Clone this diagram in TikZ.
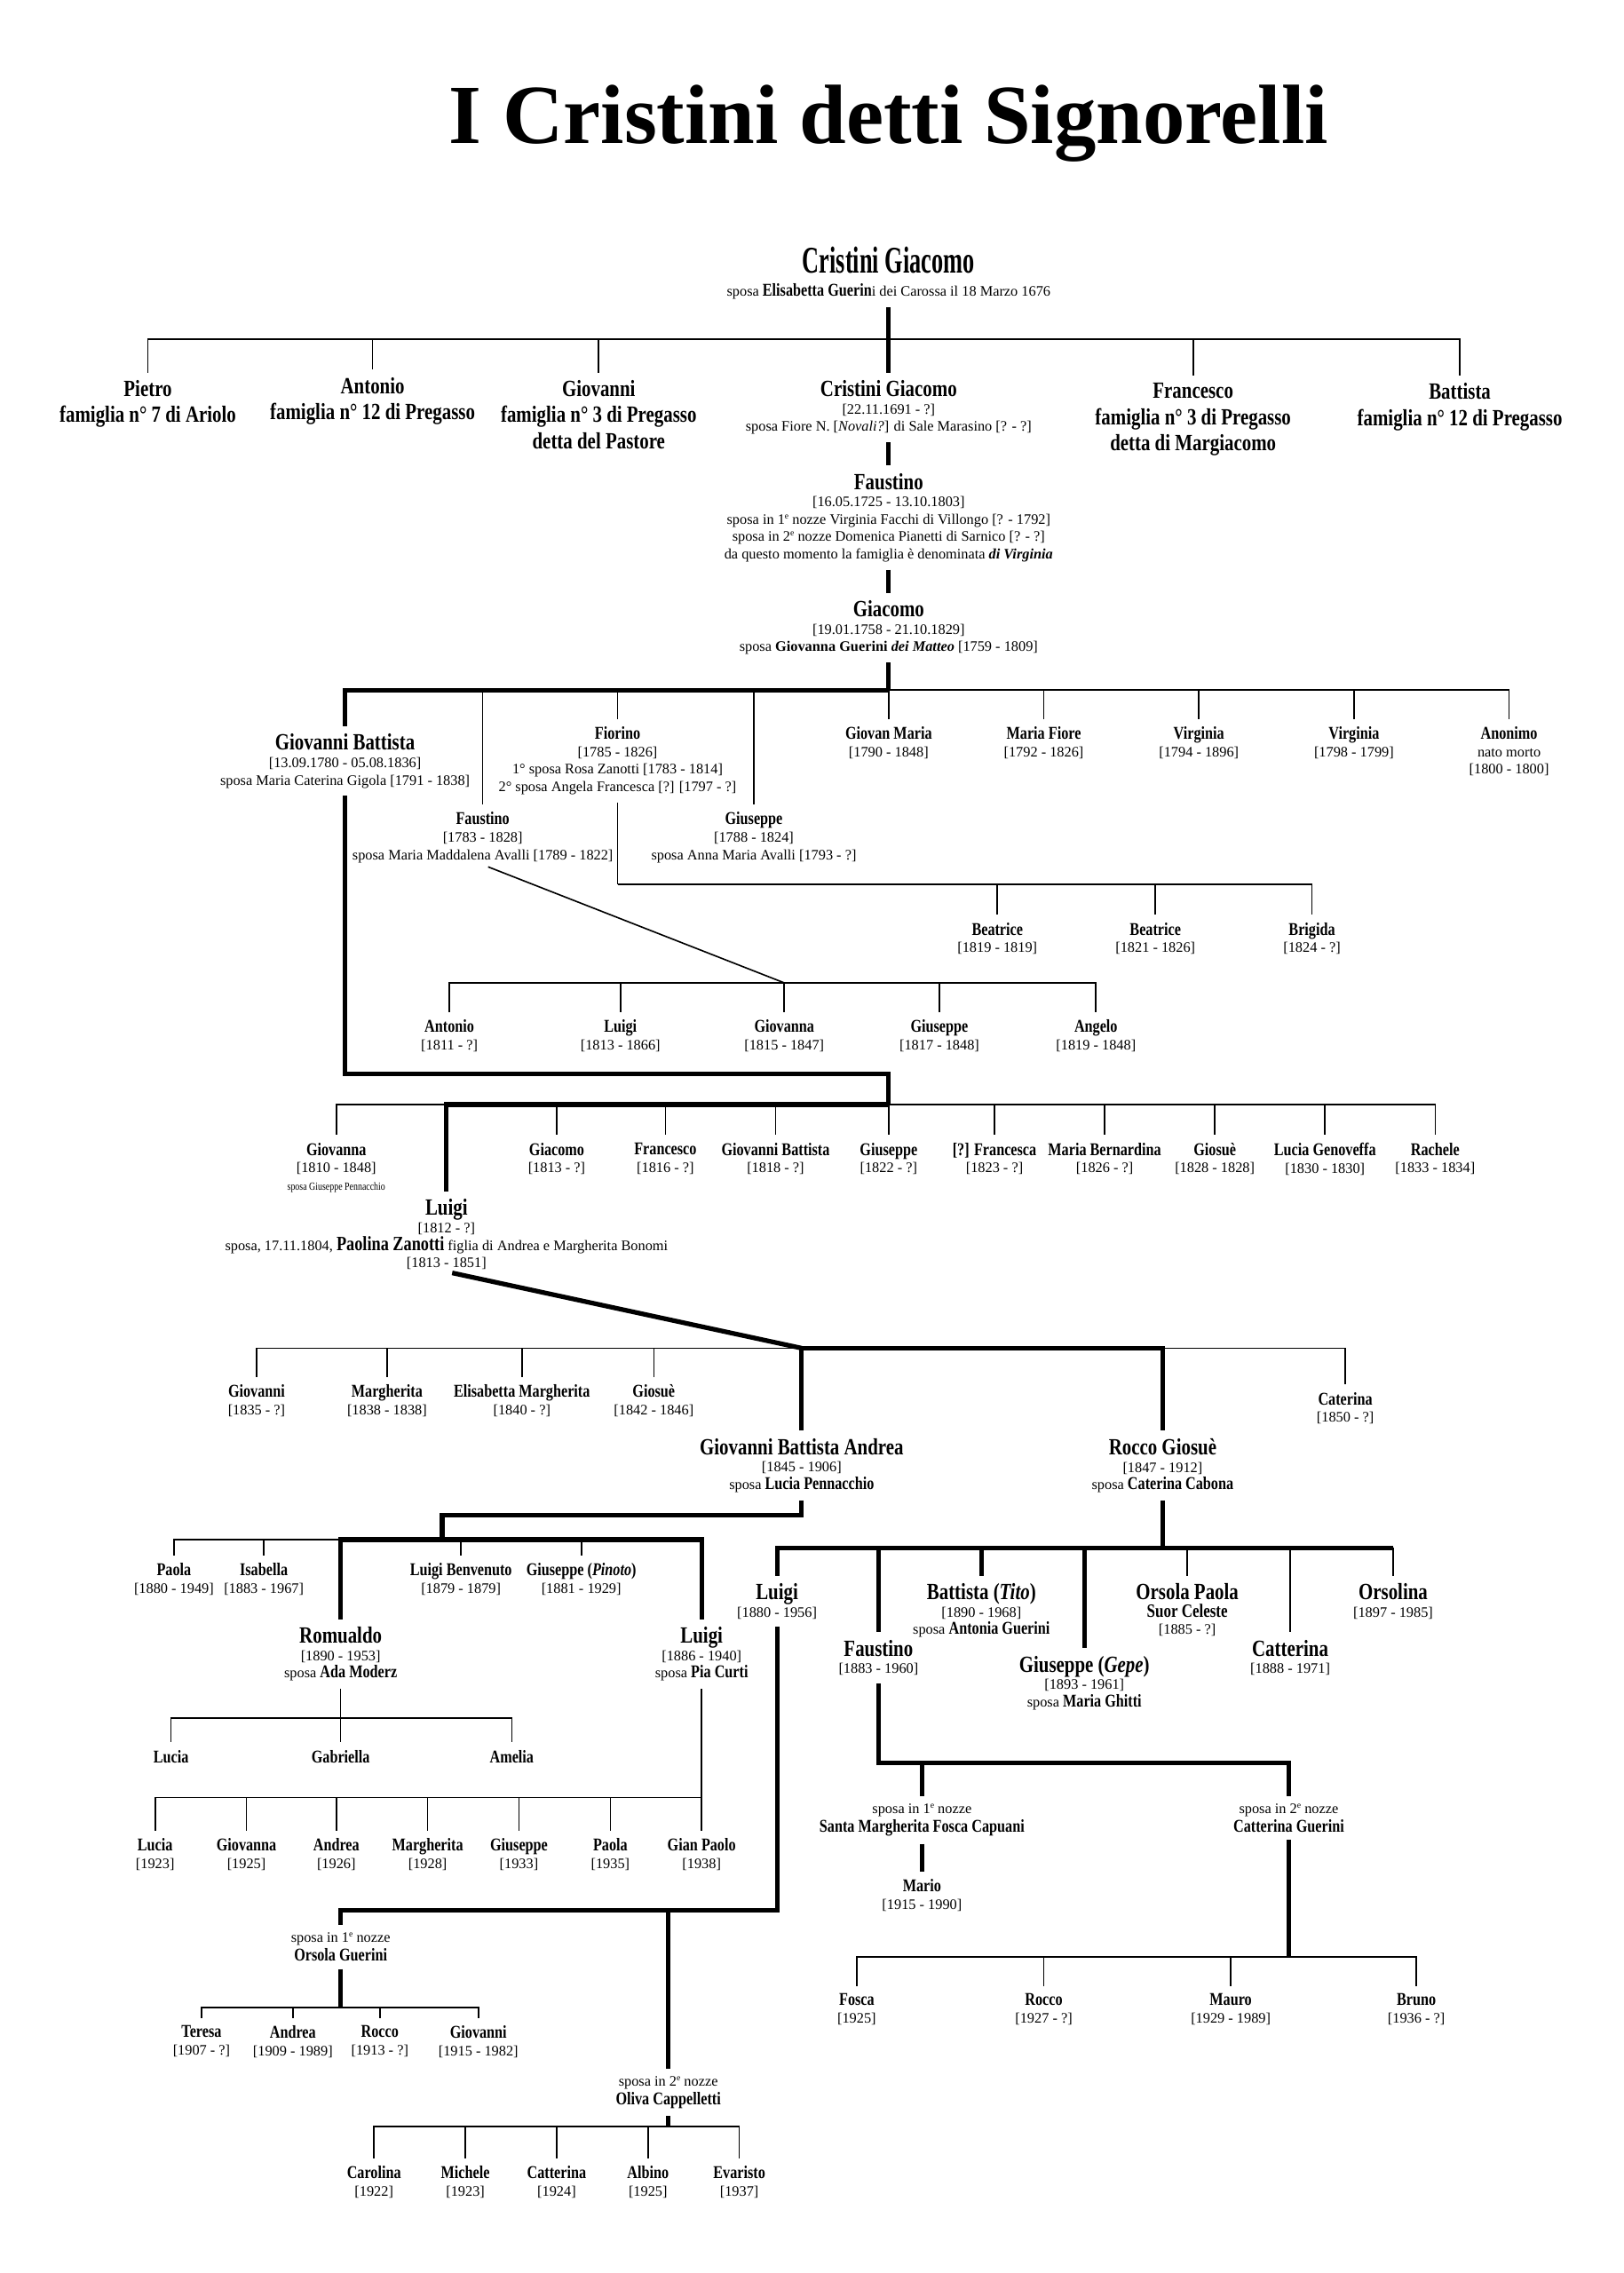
\documentclass[tikz,border=0pt]{standalone}
\usepackage{fontspec}
\setmainfont{Liberation Serif}
\newfontfamily\condensato[FakeStretch=0.8]{Liberation Serif}
\newfontfamily\compresso[FakeStretch=0.62]{Liberation Serif}

\newcommand{\testo}[1]{{\normalfont\fontsize{5}{6}\selectfont #1}}
\newcommand{\anni}[1]{\testo{[#1]}}
\newcommand{\grassetto}[1]{{\condensato\bfseries\fontsize{6.2}{6}\selectfont #1}}
\newcommand{\apice}[1]{\raisebox{0.8ex}{\fontsize{3}{3}\selectfont #1}}

\begin{document}
\begin{tikzpicture}[
    x=0.5pt, y=-0.5pt,
    titolo/.style={inner sep=0pt, font=\bfseries\fontsize{29}{30}\selectfont},
    capo/.style={anchor=north, align=center, inner sep=0.5pt,
                 font=\compresso\bfseries\fontsize{13}{8}\selectfont},
    ramo/.style={anchor=north, align=center, inner sep=0.5pt,
                 font=\condensato\bfseries\fontsize{8}{9}\selectfont},
    persona/.style={anchor=north, align=center, inner sep=0.5pt,
                 font=\condensato\bfseries\fontsize{6.2}{6}\selectfont},
    personaG/.style={persona, font=\condensato\bfseries\fontsize{8}{6}\selectfont},
    sposa/.style={anchor=north, align=center, inner sep=0.5pt,
                 font=\fontsize{5}{5}\selectfont},
    linea/.style={line width=0.5pt},
    spessa/.style={line width=1.6pt},
    figlio/.style={shorten >=2pt},
    genitore/.style={shorten <=2pt}
  ]
    \fill[white] (0,0) rectangle (1120,1568);
    \useasboundingbox (0,0) rectangle (1120,1568);

    \node[titolo] (titolo) at (613,85) {I Cristini detti Signorelli};

    % capostipite e fratelli
    \node[capo] (g0) at (613,169) {Cristini Giacomo\\
      \testo{sposa \grassetto{Elisabetta Guerin}i dei Carossa il 18 Marzo 1676}};
    \node[ramo] (pietro) at (102,261) {Pietro\\famiglia n° 7 di Ariolo};
    \node[ramo] (antonio) at (257,259) {Antonio\\famiglia n° 12 di Pregasso};
    \node[ramo] (giovanni) at (413,261) {Giovanni\\famiglia n° 3 di Pregasso\\detta del Pastore};
    \node[personaG] (giacomo1) at (613,261) {Cristini Giacomo\\\anni{22.11.1691 - ?}\\
      \testo{sposa Fiore N. [\textit{Novali?}] di Sale Marasino [? - ?]}};
    \node[ramo] (francesco) at (823,263) {Francesco\\famiglia n° 3 di Pregasso\\detta di Margiacomo};
    \node[ramo] (battista) at (1007,263) {Battista\\famiglia n° 12 di Pregasso};

    \node[personaG] (faustino1) at (613,325) {Faustino\\\anni{16.05.1725 - 13.10.1803}\\
      \testo{sposa in 1\apice{e} nozze Virginia Facchi di Villongo [? - 1792]}\\
      \testo{sposa in 2\apice{e} nozze Domenica Pianetti di Sarnico [? - ?]}\\
      \testo{da questo momento la famiglia è denominata \textbf{\textit{di Virginia}}}};
    \node[personaG] (giacomo2) at (613,413) {Giacomo\\\anni{19.01.1758 - 21.10.1829}\\
      \testo{sposa \textbf{Giovanna Guerini \textit{dei Matteo}} [1759 - 1809]}};

    % figli di Giacomo
    \node[personaG] (gb) at (238,505) {Giovanni Battista\\\anni{13.09.1780 - 05.08.1836}\\
      \testo{sposa Maria Caterina Gigola [1791 - 1838]}};
    \node[persona] (fiorino) at (426,500) {Fiorino\\\anni{1785 - 1826}\\
      \testo{1° sposa Rosa Zanotti [1783 - 1814]}\\\testo{2° sposa Angela Francesca [?] [1797 - ?]}};
    \node[persona] (giovmaria) at (613,500) {Giovan Maria\\\anni{1790 - 1848}};
    \node[persona] (mariafiore) at (720,500) {Maria Fiore\\\anni{1792 - 1826}};
    \node[persona] (virginia1) at (827,500) {Virginia\\\anni{1794 - 1896}};
    \node[persona] (virginia2) at (934,500) {Virginia\\\anni{1798 - 1799}};
    \node[persona] (anonimo) at (1041,500) {Anonimo\\\testo{nato morto}\\\anni{1800 - 1800}};
    \node[persona] (faustino2) at (333,559) {Faustino\\\anni{1783 - 1828}\\
      \testo{sposa Maria Maddalena Avalli [1789 - 1822]}};
    \node[persona] (giuseppe2) at (520,559) {Giuseppe\\\anni{1788 - 1824}\\
      \testo{sposa Anna Maria Avalli [1793 - ?]}};

    % figlie di Fiorino
    \node[persona] (beatrice1) at (688,635) {Beatrice\\\anni{1819 - 1819}};
    \node[persona] (beatrice2) at (797,635) {Beatrice\\\anni{1821 - 1826}};
    \node[persona] (brigida) at (905,635) {Brigida\\\anni{1824 - ?}};

    % figli di Faustino
    \node[persona] (antonio2) at (310,702) {Antonio\\\anni{1811 - ?}};
    \node[persona] (luigi2) at (428,702) {Luigi\\\anni{1813 - 1866}};
    \node[persona] (giovanna2) at (541,702) {Giovanna\\\anni{1815 - 1847}};
    \node[persona] (giuseppe3) at (648,702) {Giuseppe\\\anni{1817 - 1848}};
    \node[persona] (angelo) at (756,702) {Angelo\\\anni{1819 - 1848}};

    % figli di Giovanni Battista
    \node[persona] (giovanna3) at (232,787) {Giovanna\\\anni{1810 - 1848}\\
      {\condensato\mdseries\fontsize{3.8}{4}\selectfont sposa Giuseppe Pennacchio}};
    \node[personaG] (luigi3) at (308,826) {Luigi\\\anni{1812 - ?}\\
      \testo{sposa, 17.11.1804, {\condensato\bfseries\fontsize{7}{6}\selectfont Paolina Zanotti} figlia di Andrea e Margherita Bonomi}\\
      \anni{1813 - 1851}};
    \node[persona] (giacomo3) at (384,787) {Giacomo\\\anni{1813 - ?}};
    \node[persona] (francesco3) at (459,787) {Francesco\\\anni{1816 - ?}};
    \node[persona] (gbatt3) at (535,787) {Giovanni Battista\\\anni{1818 - ?}};
    \node[persona] (giuseppe4) at (613,787) {Giuseppe\\\anni{1822 - ?}};
    \node[persona] (francesca) at (686,787) {[?] Francesca\\\anni{1823 - ?}};
    \node[persona] (mbernardina) at (762,787) {Maria Bernardina\\\anni{1826 - ?}};
    \node[persona] (giosue1) at (838,787) {Giosuè\\\anni{1828 - 1828}};
    \node[persona] (luciagen) at (914,787) {Lucia Genoveffa\\\anni{1830 - 1830}};
    \node[persona] (rachele) at (990,787) {Rachele\\\anni{1833 - 1834}};

    % figli di Luigi
    \node[persona] (giovanni4) at (177,954) {Giovanni\\\anni{1835 - ?}};
    \node[persona] (margherita3) at (267,954) {Margherita\\\anni{1838 - 1838}};
    \node[persona] (elisabetta) at (360,954) {Elisabetta Margherita\\\anni{1840 - ?}};
    \node[persona] (giosue2) at (451,954) {Giosuè\\\anni{1842 - 1846}};
    \node[persona] (caterina) at (928,959) {Caterina\\\anni{1850 - ?}};
    \node[personaG] (gba) at (553,991) {Giovanni Battista Andrea\\\anni{1845 - 1906}\\
      \testo{sposa \grassetto{Lucia Pennacchio}}};
    \node[personaG] (rocco) at (802,991) {Rocco Giosuè\\\anni{1847 - 1912}\\
      \testo{sposa \grassetto{Caterina Cabona}}};

    % figli di Giovanni Battista Andrea
    \node[persona] (paola) at (120,1077) {Paola\\\anni{1880 - 1949}};
    \node[persona] (isabella) at (182,1077) {Isabella\\\anni{1883 - 1967}};
    \node[persona] (lbenvenuto) at (318,1077) {Luigi Benvenuto\\\anni{1879 - 1879}};
    \node[persona] (pinoto) at (401,1077) {Giuseppe (\textit{Pinoto})\\\anni{1881 - 1929}};
    \node[personaG] (romualdo) at (235,1121) {Romualdo\\\anni{1890 - 1953}\\
      \testo{sposa \grassetto{Ada Moderz}}};
    \node[personaG] (luigi4) at (484,1121) {Luigi\\\anni{1886 - 1940}\\
      \testo{sposa \grassetto{Pia Curti}}};

    % figli di Rocco Giosue
    \node[personaG] (luigi5) at (536,1091) {Luigi\\\anni{1880 - 1956}};
    \node[personaG] (battista5) at (677,1091) {Battista (\textit{Tito})\\\anni{1890 - 1968}\\
      \testo{sposa \grassetto{Antonia Guerini}}};
    \node[personaG] (orsolap) at (819,1091) {Orsola Paola\\
      {\fontsize{6.5}{6}\selectfont Suor Celeste}\\\anni{1885 - ?}};
    \node[personaG] (orsolina) at (961,1091) {Orsolina\\\anni{1897 - 1985}};
    \node[personaG] (faustino5) at (606,1130) {Faustino\\\anni{1883 - 1960}};
    \node[personaG] (catterina5) at (890,1130) {Catterina\\\anni{1888 - 1971}};
    \node[personaG] (gepe) at (748,1141) {Giuseppe (\textit{Gepe})\\\anni{1893 - 1961}\\
      \testo{sposa \grassetto{Maria Ghitti}}};

    % nipoti
    \node[persona] (lucia1) at (118,1206) {Lucia};
    \node[persona] (gabriella) at (235,1206) {Gabriella};
    \node[persona] (amelia) at (353,1206) {Amelia};

    \node[persona] (lucia2) at (107,1267) {Lucia\\\anni{1923}};
    \node[persona] (giovanna4) at (170,1267) {Giovanna\\\anni{1925}};
    \node[persona] (andrea1) at (232,1267) {Andrea\\\anni{1926}};
    \node[persona] (margherita4) at (295,1267) {Margherita\\\anni{1928}};
    \node[persona] (giuseppe7) at (358,1267) {Giuseppe\\\anni{1933}};
    \node[persona] (paola2) at (421,1267) {Paola\\\anni{1935}};
    \node[persona] (gianpaolo) at (484,1267) {Gian Paolo\\\anni{1938}};

    \node[sposa] (sposa1) at (235,1332) {sposa in 1\apice{e} nozze\\\grassetto{Orsola Guerini}};
    \node[persona] (teresa) at (139,1396) {Teresa\\\anni{1907 - ?}};
    \node[persona] (andrea3) at (202,1396) {Andrea\\\anni{1909 - 1989}};
    \node[persona] (rocco3) at (262,1396) {Rocco\\\anni{1913 - ?}};
    \node[persona] (giovanni5) at (330,1396) {Giovanni\\\anni{1915 - 1982}};

    \node[sposa] (sposa2) at (461,1431) {sposa in 2\apice{e} nozze\\\grassetto{Oliva Cappelletti}};
    \node[persona] (carolina) at (258,1493) {Carolina\\\anni{1922}};
    \node[persona] (michele) at (321,1493) {Michele\\\anni{1923}};
    \node[persona] (catterina6) at (384,1493) {Catterina\\\anni{1924}};
    \node[persona] (albino) at (447,1493) {Albino\\\anni{1925}};
    \node[persona] (evaristo) at (510,1493) {Evaristo\\\anni{1937}};

    \node[sposa] (sposaA) at (636,1243) {sposa in 1\apice{e} nozze\\\grassetto{Santa Margherita Fosca Capuani}};
    \node[persona] (mario) at (636,1295) {Mario\\\anni{1915 - 1990}};
    \node[sposa] (sposaB) at (889,1243) {sposa in 2\apice{e} nozze\\\grassetto{Catterina Guerini}};
    \node[persona] (fosca) at (591,1374) {Fosca\\\anni{1925}};
    \node[persona] (rocco6) at (720,1374) {Rocco\\\anni{1927 - ?}};
    \node[persona] (mauro) at (849,1374) {Mauro\\\anni{1929 - 1989}};
    \node[persona] (bruno) at (977,1374) {Bruno\\\anni{1936 - ?}};

    % punti di diramazione
    \coordinate (b0) at (613,234);
    \coordinate (b1) at (613,476);
    \coordinate (b2) at (426,610);
    \coordinate (b3) at (541,678);
    \coordinate (gomito1) at (613,741);
    \coordinate (b4) at (613,762);
    \coordinate (b5) at (553,930);
    \coordinate (gomito2) at (305,1045);
    \coordinate (b6) at (305,1062);
    \coordinate (b7) at (802,1068);
    \coordinate (b8) at (235,1185);
    \coordinate (b9) at (484,1240);
    \coordinate (b10) at (461,1318);
    \coordinate (b11) at (235,1385);
    \coordinate (b12) at (461,1467);
    \coordinate (b13) at (636,1216);
    \coordinate (b14) at (889,1350);

    % collegamenti
    \foreach \f in {pietro,antonio,giovanni,francesco,battista}
      \draw[linea, figlio] (b0) -| (\f.north);
    \draw[spessa, genitore, figlio] (g0.south) -- (giacomo1.north);
    \draw[spessa, genitore, figlio] (giacomo1.south) -- (faustino1.north);
    \draw[spessa, genitore, figlio] (faustino1.south) -- (giacomo2.north);

    \draw[spessa, genitore] (giacomo2.south) -- (b1);
    \foreach \f in {faustino2,fiorino,giuseppe2,giovmaria,mariafiore,virginia1,virginia2,anonimo}
      \draw[linea, figlio] (b1) -| (\f.north);
    \draw[spessa, figlio] (b1) -| (gb.north);

    \draw[linea, genitore] (fiorino.south) -- (b2);
    \foreach \f in {beatrice1,beatrice2,brigida}
      \draw[linea, figlio] (b2) -| (\f.north);
    \draw[linea, genitore] (faustino2.south) -- (b3);
    \foreach \f in {antonio2,luigi2,giovanna2,giuseppe3,angelo}
      \draw[linea, figlio] (b3) -| (\f.north);

    \draw[spessa, genitore] (gb.south) |- (gomito1) -- (b4);
    \foreach \f in {giovanna3,giacomo3,francesco3,gbatt3,giuseppe4,francesca,mbernardina,giosue1,luciagen,rachele}
      \draw[linea, figlio] (b4) -| (\f.north);
    \draw[spessa, figlio] (b4) -| (luigi3.north);

    \draw[spessa, genitore] (luigi3.south) -- (b5);
    \foreach \f in {giovanni4,margherita3,elisabetta,giosue2,caterina}
      \draw[linea, figlio] (b5) -| (\f.north);
    \draw[spessa, figlio] (b5) -- (gba.north);
    \draw[spessa, figlio] (b5) -| (rocco.north);

    \draw[spessa, genitore] (gba.south) |- (gomito2) -- (b6);
    \foreach \f in {paola,isabella,lbenvenuto,pinoto}
      \draw[linea, figlio] (b6) -| (\f.north);
    \foreach \f in {romualdo,luigi4}
      \draw[spessa, figlio] (b6) -| (\f.north);

    \draw[spessa, genitore] (rocco.south) -- (b7);
    \foreach \f in {orsolap,catterina5,orsolina}
      \draw[linea, figlio] (b7) -| (\f.north);
    \draw[spessa] (b7) -- (b7 -| orsolina.north);
    \foreach \f in {luigi5,faustino5,battista5,gepe}
      \draw[spessa, figlio] (b7) -| (\f.north);

    \draw[linea, genitore] (romualdo.south) -- (b8);
    \foreach \f in {lucia1,gabriella,amelia}
      \draw[linea, figlio] (b8) -| (\f.north);
    \draw[linea, genitore] (luigi4.south) -- (b9);
    \foreach \f in {lucia2,giovanna4,andrea1,margherita4,giuseppe7,paola2,gianpaolo}
      \draw[linea, figlio] (b9) -| (\f.north);

    \draw[spessa, genitore, figlio] (luigi5.south) |- (b10) -| (sposa1.north);
    \draw[spessa, figlio] (b10) -- (sposa2.north);
    \draw[spessa, genitore] (sposa1.south) -- (b11);
    \foreach \f in {teresa,andrea3,rocco3,giovanni5}
      \draw[linea, figlio] (b11) -| (\f.north);
    \draw[spessa, genitore] (sposa2.south) -- (b12);
    \foreach \f in {carolina,michele,catterina6,albino,evaristo}
      \draw[linea, figlio] (b12) -| (\f.north);

    \draw[spessa, genitore, figlio] (faustino5.south) |- (b13) -- (sposaA.north);
    \draw[spessa, figlio] (b13) -| (sposaB.north);
    \draw[spessa, genitore, figlio] (sposaA.south) -- (mario.north);
    \draw[spessa, genitore] (sposaB.south) -- (b14);
    \foreach \f in {fosca,rocco6,mauro,bruno}
      \draw[linea, figlio] (b14) -| (\f.north);
\end{tikzpicture}
\end{document}
